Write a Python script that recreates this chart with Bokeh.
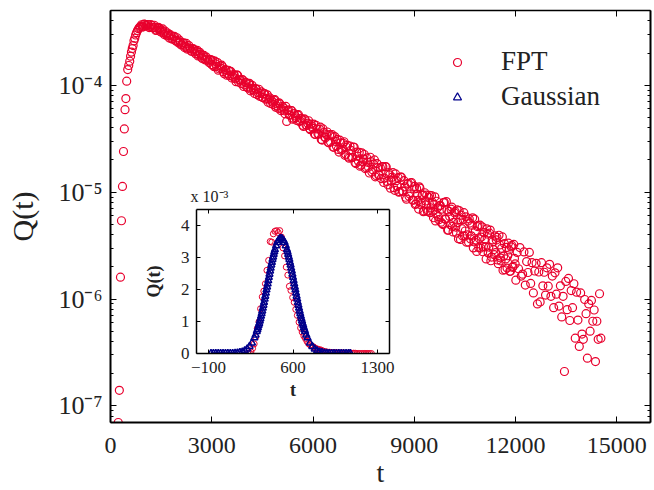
from bokeh.plotting import figure
from bokeh.models import (FixedTicker, LinearAxis, LogAxis, Legend, LegendItem,
                          ColumnDataSource, Range1d, CustomJSTickFormatter, GridBox)
from bokeh.embed import file_html
from bokeh.resources import INLINE

# ---------------- data ----------------
x_ticks = [0, 3000, 6000, 9000, 12000, 15000]
y_tick_values = [1e-7, 1e-6, 1e-5, 1e-4]
y_tick_labels = ["10\u207b\u2077", "10\u207b\u2076", "10\u207b\u2075", "10\u207b\u2074"]

fpt_t_rise = [230, 262, 295, 325, 355, 385, 410, 430, 455, 480, 510, 540, 570, 595, 620,
              645, 670, 695, 720, 745, 770, 800, 830, 860, 890]
fpt_q_rise = [7.0e-8, 1.4e-7, 1.6e-6, 5.4e-6, 1.13e-5, 2.4e-5, 3.9e-5, 5.9e-5, 7.5e-5, 1.09e-4,
              1.40e-4, 1.53e-4, 1.68e-4, 1.87e-4, 2.04e-4, 2.20e-4, 2.35e-4, 2.60e-4, 2.75e-4,
              2.95e-4, 3.10e-4, 3.25e-4, 3.38e-4, 3.48e-4, 3.55e-4]

fpt_t_peak = [920, 970, 1020, 1070, 1120, 1170, 1220, 1270, 1320, 1370, 1420, 1470, 1520, 1570,
              1620, 1670, 1720, 1770, 1820, 1870, 1920, 1970, 2020, 2070, 2120, 2170, 2220, 2270,
              2320, 2370, 2420, 2470, 2520, 2570, 2620, 2670, 2720, 2770, 2820, 2870, 2920, 2970]
fpt_q_peak = [3.68e-4, 3.52e-4, 3.72e-4, 3.60e-4, 3.68e-4, 3.50e-4, 3.62e-4, 3.45e-4, 3.49e-4,
              3.28e-4, 3.48e-4, 3.20e-4, 3.27e-4, 3.10e-4, 3.20e-4, 2.90e-4, 2.93e-4, 2.97e-4,
              2.70e-4, 2.83e-4, 2.64e-4, 2.78e-4, 2.48e-4, 2.53e-4, 2.39e-4, 2.49e-4, 2.32e-4,
              2.18e-4, 2.35e-4, 2.19e-4, 2.08e-4, 2.16e-4, 1.97e-4, 2.12e-4, 1.92e-4, 1.95e-4,
              1.78e-4, 1.90e-4, 1.76e-4, 1.76e-4, 1.63e-4, 1.74e-4]

fpt_t_peak_b = [945, 995, 1045, 1095, 1145, 1195, 1245, 1295, 1345, 1395, 1445, 1495, 1545, 1595,
                1645, 1695, 1745, 1795, 1845, 1895, 1945, 1995, 2045, 2095, 2145, 2195, 2245, 2295,
                2345, 2395, 2445, 2495, 2545, 2595, 2645, 2695, 2745, 2795, 2845, 2895, 2945, 2995]
fpt_q_peak_b = [3.51e-4, 3.73e-4, 3.60e-4, 3.70e-4, 3.46e-4, 3.70e-4, 3.45e-4, 3.64e-4, 3.25e-4,
                3.39e-4, 3.40e-4, 3.14e-4, 3.36e-4, 2.98e-4, 3.03e-4, 3.08e-4, 2.76e-4, 2.90e-4,
                2.72e-4, 2.86e-4, 2.58e-4, 2.57e-4, 2.64e-4, 2.38e-4, 2.48e-4, 2.25e-4, 2.46e-4,
                2.22e-4, 2.23e-4, 2.08e-4, 2.20e-4, 2.05e-4, 2.08e-4, 1.88e-4, 2.03e-4, 1.83e-4,
                1.89e-4, 1.73e-4, 1.83e-4, 1.69e-4, 1.73e-4, 1.56e-4]

fpt_t_mid = [3020, 3070, 3120, 3170, 3220, 3270, 3320, 3370, 3420, 3470,
             3520, 3570, 3620, 3670, 3720, 3770, 3820, 3870, 3920, 3970,
             4020, 4070, 4120, 4170, 4220, 4270, 4320, 4370, 4420, 4470,
             4520, 4570, 4620, 4670, 4720, 4770, 4820, 4870, 4920, 4970,
             5020, 5070, 5120, 5170, 5220, 5270, 5320, 5370, 5420, 5470,
             5520, 5570, 5620, 5670, 5720, 5770, 5820, 5870, 5920, 5970,
             6020, 6070, 6120, 6170, 6220, 6270, 6320, 6370, 6420, 6470,
             6520, 6570, 6620, 6670, 6720, 6770, 6820, 6870, 6920, 6970,
             7020, 7070, 7120, 7170, 7220, 7270, 7320, 7370, 7420, 7470,
             7520, 7570, 7620, 7670, 7720, 7770, 7820, 7870, 7920, 7970,
             8020, 8070, 8120, 8170, 8220, 8270, 8320, 8370, 8420, 8470,
             8520, 8570, 8620, 8670, 8720, 8770, 8820, 8870, 8920, 8970]
fpt_q_mid = [1.71e-4, 1.49e-4, 1.58e-4, 1.63e-4, 1.42e-4, 1.44e-4, 1.49e-4, 1.28e-4, 1.39e-4, 1.28e-4,
             1.23e-4, 1.34e-4, 1.21e-4, 1.24e-4, 1.08e-4, 1.23e-4, 1.12e-4, 1.04e-4, 1.12e-4, 1.01e-4,
             1.05e-4, 9.4e-5, 1.04e-4, 9.15e-5, 9.4e-5, 8.37e-5, 9.23e-5, 8.5e-5, 7.88e-5, 8.68e-5,
             7.67e-5, 8.35e-5, 7.54e-5, 6.93e-5, 7.63e-5, 7.24e-5, 6.59e-5, 7.32e-5, 6.42e-5, 6.08e-5,
             6.68e-5, 5.98e-5, 6.14e-5, 5.41e-5, 4.59e-5, 5.89e-5, 5.26e-5, 5.78e-5, 4.92e-5, 5.16e-5,
             4.68e-5, 5.30e-5, 4.66e-5, 4.83e-5, 4.12e-5, 4.74e-5, 4.20e-5, 4.65e-5, 3.84e-5, 4.11e-5,
             4.32e-5, 3.46e-5, 3.90e-5, 3.48e-5, 4.05e-5, 3.07e-5, 3.61e-5, 3.23e-5, 3.65e-5, 2.89e-5,
             2.95e-5, 3.45e-5, 2.63e-5, 2.98e-5, 3.11e-5, 2.37e-5, 2.89e-5, 2.52e-5, 2.96e-5, 2.26e-5,
             2.74e-5, 2.08e-5, 2.46e-5, 2.12e-5, 2.63e-5, 1.85e-5, 2.17e-5, 2.35e-5, 1.79e-5, 1.92e-5,
             2.25e-5, 1.70e-5, 1.90e-5, 1.51e-5, 1.93e-5, 1.62e-5, 2.00e-5, 1.43e-5, 1.69e-5, 1.44e-5,
             1.34e-5, 1.73e-5, 1.35e-5, 1.72e-5, 1.17e-5, 1.45e-5, 1.27e-5, 1.52e-5, 1.04e-5, 1.28e-5,
             1.37e-5, 1.01e-5, 1.38e-5, 1.02e-5, 1.12e-5, 8.6e-6, 1.21e-5, 9.6e-6, 1.23e-5, 8.4e-6]

fpt_t_mid_b = [3045, 3095, 3145, 3195, 3245, 3295, 3345, 3395, 3445, 3495,
               3545, 3595, 3645, 3695, 3745, 3795, 3845, 3895, 3945, 3995,
               4045, 4095, 4145, 4195, 4245, 4295, 4345, 4395, 4445, 4495,
               4545, 4595, 4645, 4695, 4745, 4795, 4845, 4895, 4945, 4995,
               5045, 5095, 5145, 5195, 5245, 5295, 5345, 5395, 5445, 5495,
               5545, 5595, 5645, 5695, 5745, 5795, 5845, 5895, 5945, 5995,
               6045, 6095, 6145, 6195, 6245, 6295, 6345, 6395, 6445, 6495,
               6545, 6595, 6645, 6695, 6745, 6795, 6845, 6895, 6945, 6995,
               7045, 7095, 7145, 7195, 7245, 7295, 7345, 7395, 7445, 7495,
               7545, 7595, 7645, 7695, 7745, 7795, 7845, 7895, 7945, 7995,
               8045, 8095, 8145, 8195, 8245, 8295, 8345, 8395, 8445, 8495,
               8545, 8595, 8645, 8695, 8745, 8795, 8845, 8895, 8945, 8995]
fpt_q_mid_b = [1.53e-4, 1.68e-4, 1.50e-4, 1.38e-4, 1.52e-4, 1.54e-4, 1.34e-4, 1.39e-4, 1.24e-4, 1.38e-4,
               1.35e-4, 1.17e-4, 1.26e-4, 1.15e-4, 1.25e-4, 1.07e-4, 1.12e-4, 1.13e-4, 9.75e-5, 1.07e-4,
               9.6e-5, 1.03e-4, 8.87e-5, 9.97e-5, 9.02e-5, 9.26e-5, 8.17e-5, 9.17e-5, 8.37e-5, 7.70e-5,
               8.30e-5, 7.40e-5, 8.14e-5, 7.43e-5, 6.76e-5, 6.95e-5, 7.27e-5, 6.23e-5, 6.75e-5, 6.85e-5,
               5.79e-5, 6.33e-5, 5.77e-5, 6.33e-5, 5.79e-5, 5.27e-5, 5.80e-5, 4.81e-5, 5.43e-5, 4.95e-5,
               5.26e-5, 4.57e-5, 4.89e-5, 4.22e-5, 4.84e-5, 4.25e-5, 4.41e-5, 3.93e-5, 4.32e-5, 3.95e-5,
               3.49e-5, 4.21e-5, 3.52e-5, 3.87e-5, 3.11e-5, 3.90e-5, 3.27e-5, 3.45e-5, 2.93e-5, 3.45e-5,
               3.35e-5, 2.64e-5, 3.31e-5, 2.69e-5, 2.51e-5, 3.06e-5, 2.46e-5, 2.86e-5, 2.21e-5, 2.63e-5,
               2.13e-5, 2.70e-5, 2.10e-5, 2.64e-5, 1.89e-5, 2.37e-5, 1.95e-5, 1.75e-5, 2.33e-5, 2.04e-5,
               1.66e-5, 2.09e-5, 1.71e-5, 2.12e-5, 1.54e-5, 1.83e-5, 1.39e-5, 1.85e-5, 1.45e-5, 1.69e-5,
               1.73e-5, 1.23e-5, 1.73e-5, 1.26e-5, 1.52e-5, 1.09e-5, 1.38e-5, 1.10e-5, 1.48e-5, 1.13e-5,
               1.00e-5, 1.38e-5, 1.02e-5, 1.28e-5, 8.96e-6, 1.19e-5, 9.17e-6, 1.22e-5, 8.43e-6, 1.07e-5]

fpt_t_tail = [9010, 9050, 9090, 9130, 9170, 9210, 9250, 9290, 9330, 9370,
              9410, 9450, 9490, 9530, 9570, 9610, 9650, 9690, 9730, 9770,
              9810, 9850, 9890, 9930, 9970, 10010, 10050, 10090, 10130, 10170,
              10210, 10250, 10290, 10330, 10370, 10410, 10450, 10490, 10530, 10570,
              10610, 10650, 10690, 10730, 10770, 10810, 10850, 10890, 10930, 10970,
              11010, 11050, 11090, 11130, 11170, 11210, 11250, 11290, 11330, 11370,
              11410, 11450, 11490, 11530, 11570, 11610, 11650, 11690, 11730, 11770,
              11810, 11850, 11890, 11930, 11970, 12010, 12050, 12090, 12130, 12170,
              12210, 12250, 12290, 12330, 12370, 12410, 12450, 12490, 12530, 12570,
              12610, 12650, 12690, 12730, 12770, 12810, 12850, 12890, 12930, 12970,
              13010, 13050, 13090, 13130, 13170, 13210, 13250, 13290, 13330, 13370,
              13410, 13450, 13490, 13530, 13570, 13610, 13650, 13690, 13730, 13770,
              13810, 13850, 13890, 13930, 13970, 14010, 14050, 14090, 14130, 14170,
              14210, 14250, 14290, 14330, 14370, 14410, 14450, 14490, 14530]
fpt_q_tail = [1.13e-5, 7.78e-6, 9.53e-6, 6.94e-6, 1.09e-5, 7.88e-6, 9.41e-6, 6.67e-6, 8.24e-6, 9.36e-6,
              6.69e-6, 9.31e-6, 7.12e-6, 8.07e-6, 5.76e-6, 9.04e-6, 6.23e-6, 7.13e-6, 5.53e-6, 7.52e-6,
              6.92e-6, 4.97e-6, 8.02e-6, 5.57e-6, 6.82e-6, 4.42e-6, 5.93e-6, 6.93e-6, 4.78e-6, 5.22e-6,
              6.60e-6, 4.14e-6, 5.18e-6, 6.72e-6, 3.61e-6, 4.55e-6, 5.55e-6, 3.87e-6, 5.88e-6, 3.99e-6,
              3.40e-6, 5.14e-6, 3.90e-6, 5.75e-6, 3.43e-6, 4.35e-6, 2.79e-6, 4.88e-6, 3.66e-6, 3.00e-6,
              4.74e-6, 3.10e-6, 3.62e-6, 2.37e-6, 4.05e-6, 3.06e-6, 4.42e-6, 2.47e-6, 3.44e-6, 2.60e-6,
              2.72e-6, 3.77e-6, 2.14e-6, 3.21e-6, 2.27e-6, 3.81e-6, 2.52e-6, 1.88e-6, 3.04e-6, 2.54e-6,
              2.88e-6, 1.82e-6, 3.17e-6, 2.02e-6, 2.40e-6, 1.50e-6, 2.73e-6, 1.92e-6, 3.03e-6, 1.64e-6,
              1.71e-6, 2.76e-6, 1.35e-6, 2.24e-6, 1.77e-6, 2.73e-6, 1.40e-6, 2.19e-6, 1.14e-6, 1.83e-6,
              2.16e-6, 9.0e-7, 1.79e-6, 9.4e-7, 2.19e-6, 1.33e-6, 1.78e-6, 1.09e-6, 1.96e-6, 1.32e-6,
              2.11e-6, 1.06e-6, 1.64e-6, 8.3e-7, 1.76e-6, 1.11e-6, 1.96e-6, 8.6e-7, 1.33e-6, 6.8e-7,
              1.06e-6, 2.1e-7, 1.46e-6, 7.95e-7, 1.56e-6, 6.3e-7, 1.20e-6, 8.3e-7, 1.39e-6, 4.3e-7,
              1.16e-6, 6.36e-7, 3.6e-7, 1.14e-6, 4.7e-7, 4.2e-7, 9.9e-7, 7.3e-7, 2.8e-7, 9.0e-7,
              5.0e-7, 9.7e-7, 6.2e-7, 7.9e-7, 2.6e-7, 6.2e-7, 4.2e-7, 1.12e-6, 4.3e-7]

fpt_t_tail_b = [9030, 9070, 9110, 9150, 9190, 9230, 9270, 9310, 9350, 9390,
                9430, 9470, 9510, 9550, 9590, 9630, 9670, 9710, 9750, 9790,
                9830, 9870, 9910, 9950, 9990, 10030, 10070, 10110, 10150, 10190,
                10230, 10270, 10310, 10350, 10390, 10430, 10470, 10510, 10550, 10590,
                10630, 10670, 10710, 10750, 10790, 10830, 10870, 10910, 10950, 10990,
                11030, 11070, 11110, 11150, 11190, 11230, 11270, 11310, 11350, 11390,
                11430, 11470, 11510, 11550, 11590, 11630, 11670, 11710, 11750, 11790,
                11830, 11870, 11910, 11950, 11990]
fpt_q_tail_b = [7.67e-6, 1.08e-5, 8.36e-6, 1.12e-5, 7.60e-6, 9.32e-6, 6.57e-6, 9.87e-6, 7.60e-6, 6.59e-6,
                8.93e-6, 6.42e-6, 9.28e-6, 6.62e-6, 7.63e-6, 5.38e-6, 8.22e-6, 5.91e-6, 7.45e-6, 5.24e-6,
                5.08e-6, 7.97e-6, 5.62e-6, 8.15e-6, 4.40e-6, 6.61e-6, 4.96e-6, 7.24e-6, 4.24e-6, 6.40e-6,
                4.71e-6, 6.82e-6, 3.67e-6, 5.52e-6, 6.09e-6, 3.89e-6, 6.42e-6, 4.33e-6, 3.40e-6, 5.36e-6,
                5.62e-6, 3.65e-6, 4.90e-6, 3.01e-6, 5.59e-6, 3.56e-6, 4.76e-6, 3.02e-6, 4.91e-6, 3.80e-6,
                2.77e-6, 4.18e-6, 3.08e-6, 4.54e-6, 2.70e-6, 4.13e-6, 2.28e-6, 3.57e-6, 2.89e-6, 3.89e-6,
                3.57e-6, 2.32e-6, 3.95e-6, 2.43e-6, 2.98e-6, 1.86e-6, 3.30e-6, 2.37e-6, 1.95e-6, 3.33e-6,
                1.82e-6, 3.08e-6, 1.98e-6, 3.24e-6, 2.13e-6]

# inset (values in units of 1e-3)
inset_x_ticks = [-100, 600, 1300]
inset_y_ticks = [0, 1, 2, 3, 4]
ins_fpt_t = [225, 238, 251, 265, 278, 291, 304, 318, 331, 345, 358, 371, 384, 398, 411, 424, 437,
             450, 464, 477, 490, 504, 517, 530, 544, 557, 570, 583, 597, 610, 623, 636, 650, 663,
             676, 690, 703, 716, 729, 742, 756, 769, 782, 795, 808, 822, 835, 848, 862, 875,
             890, 905, 920, 935, 950, 965, 980, 995, 1010, 1025, 1040, 1055, 1070, 1085, 1100,
             1115, 1130, 1145, 1160, 1175, 1190, 1205, 1220, 1235, 1250]
ins_fpt_q = [0.00, 0.01, 0.05, 0.16, 0.30, 0.52, 0.78, 0.99, 1.40, 1.77, 1.95, 2.18, 2.60, 2.91,
             3.50, 3.48, 3.74, 3.82, 3.84, 3.78, 3.84, 3.64, 3.30, 3.05, 2.70, 2.45, 2.10, 1.97,
             1.75, 1.60, 1.38, 1.19, 0.98, 0.80, 0.67, 0.55, 0.47, 0.38, 0.31, 0.27, 0.23, 0.21,
             0.17, 0.15, 0.13, 0.12, 0.10, 0.08, 0.06, 0.05,
             0.04, 0.04, 0.03, 0.03, 0.03, 0.02, 0.02, 0.02, 0.02, 0.01, 0.01, 0.01, 0.01, 0.01,
             0.01, 0.01, 0.0, 0.0, 0.0, 0.0, 0.0, 0.0, 0.0, 0.0, 0.0]

ins_gau_t = [-80, -60, -40, -20, 0, 20, 40, 60, 80, 100, 120, 140, 160, 180, 200, 220, 240, 260,
             280, 290, 300, 305, 310, 315, 320, 325, 330, 335, 340, 345, 350, 355, 360, 365, 370,
             375, 380, 385, 390, 395, 400, 405, 410, 415, 420, 425, 430, 435, 440, 445, 450,
             460, 470, 480, 490, 500, 510, 520, 530, 540, 550,
             555, 560, 565, 570, 575, 580, 585, 590, 595, 600, 605, 610, 615, 620, 625, 630, 635,
             640, 645, 650, 655, 660, 665, 670, 675, 680, 685, 690, 695, 700,
             710, 720, 740, 760, 780, 800, 820, 840, 860, 880, 900, 920, 940, 960, 980, 1000,
             1020, 1040, 1060, 1075]
ins_gau_q = [0.0, 0.0, 0.0, 0.0, 0.0, 0.0, 0.0, 0.0, 0.0, 0.0, 0.01, 0.02, 0.03, 0.05, 0.09, 0.14,
             0.22, 0.33, 0.49, 0.58, 0.69, 0.75, 0.81, 0.88, 0.94, 1.02, 1.09, 1.17, 1.25, 1.33,
             1.42, 1.51, 1.60, 1.70, 1.79, 1.89, 1.99, 2.08, 2.18, 2.28, 2.38, 2.48, 2.58, 2.67,
             2.77, 2.85, 2.94, 3.02, 3.10, 3.18, 3.25,
             3.37, 3.47, 3.54, 3.59, 3.60, 3.59, 3.54, 3.47, 3.37, 3.25,
             3.18, 3.10, 3.02, 2.94, 2.85, 2.77, 2.67, 2.58, 2.48, 2.38, 2.28, 2.18, 2.08, 1.99,
             1.89, 1.79, 1.70, 1.60, 1.51, 1.42, 1.33, 1.25, 1.17, 1.09, 1.02, 0.94, 0.88, 0.81,
             0.75, 0.69,
             0.58, 0.49, 0.33, 0.22, 0.14, 0.09, 0.05, 0.03, 0.02, 0.01, 0.0, 0.0, 0.0, 0.0, 0.0,
             0.0, 0.0, 0.0, 0.0, 0.0]

# ---------------- style ----------------
RED = "#e8002d"
BLUE = "#00008b"
FONT = "Liberation Serif"
TXT = "#222222"

main_src = ColumnDataSource(data=dict(
    t=fpt_t_rise + fpt_t_peak + fpt_t_peak_b + fpt_t_mid + fpt_t_mid_b + fpt_t_tail + fpt_t_tail_b,
    q=fpt_q_rise + fpt_q_peak + fpt_q_peak_b + fpt_q_mid + fpt_q_mid_b + fpt_q_tail + fpt_q_tail_b))

p = figure(width=654, height=490, x_range=Range1d(0, 16000), y_range=Range1d(7e-8, 5e-4),
           y_axis_type="log", output_backend="svg", toolbar_location=None,
           min_border_left=110, min_border_right=4, min_border_top=10, min_border_bottom=66)
p.grid.visible = False
p.outline_line_color = None
p.background_fill_color = "white"

y_minor = [m * 10.0 ** e for e in range(-8, -3) for m in range(2, 10)]
y_ticker = FixedTicker(ticks=y_tick_values, minor_ticks=y_minor)
x_ticker = FixedTicker(ticks=x_ticks)
y_fmt = CustomJSTickFormatter(args=dict(vals=y_tick_values, labs=y_tick_labels), code="""
for (let i = 0; i < vals.length; i++) {
  if (Math.abs(Math.log10(tick) - Math.log10(vals[i])) < 1e-6) { return labs[i]; }
}
return "";
""")


def style_axis(ax, width, fs, show_labels=True):
    ax.axis_line_color = "black"
    ax.axis_line_width = width
    ax.major_tick_in = 6
    ax.major_tick_out = 0
    ax.minor_tick_in = 3
    ax.minor_tick_out = 0
    ax.major_tick_line_color = "black"
    ax.minor_tick_line_color = "black"
    ax.major_label_text_font = FONT
    ax.major_label_text_color = TXT
    ax.major_label_text_font_size = fs
    if not show_labels:
        ax.formatter = CustomJSTickFormatter(code="return '';")
        ax.major_label_standoff = 0


xa = p.xaxis[0]
xa.ticker = x_ticker
style_axis(xa, 2, "24px")
xa.major_label_standoff = 15
xa.axis_label = "t"
xa.axis_label_text_font = FONT
xa.axis_label_text_font_size = "28px"
xa.axis_label_text_font_style = "normal"
xa.axis_label_text_color = TXT
xa.axis_label_standoff = 1

ya = p.yaxis[0]
ya.ticker = y_ticker
ya.formatter = y_fmt
style_axis(ya, 2, "26px")
ya.major_label_standoff = 8
ya.axis_label = "Q(t)"
ya.axis_label_text_font = FONT
ya.axis_label_text_font_size = "30px"
ya.axis_label_text_font_style = "normal"
ya.axis_label_text_color = TXT
ya.axis_label_standoff = 16

top_ax = LinearAxis(ticker=x_ticker)
style_axis(top_ax, 1.5, "2px", show_labels=False)
p.add_layout(top_ax, "above")
right_ax = LogAxis(ticker=y_ticker)
style_axis(right_ax, 2, "2px", show_labels=False)
p.add_layout(right_ax, "right")

r_fpt = p.scatter(x="t", y="q", source=main_src, marker="circle", size=8,
                  fill_color=None, line_color=RED, line_width=1.2)
# legend key for the Gaussian series (its points are drawn in the inset)
r_gau_key = p.scatter(x=ins_gau_t, y=ins_gau_q, marker="triangle", size=6, fill_color=None,
                      line_color=BLUE, line_width=1.2)
r_gau_key.visible = False

legend = Legend(items=[LegendItem(label="FPT", renderers=[r_fpt]),
                       LegendItem(label="Gaussian", renderers=[r_gau_key])],
                location=(337, 310))
legend.border_line_color = None
legend.background_fill_alpha = 0
legend.label_text_font = FONT
legend.label_text_font_size = "27px"
legend.label_text_color = TXT
legend.glyph_width = 20
legend.glyph_height = 20
legend.label_standoff = 34
legend.spacing = 4
legend.padding = 0
legend.margin = 0
p.add_layout(legend)

# ---------------- inset ----------------
q = figure(width=255, height=235, x_range=Range1d(-200, 1400), y_range=Range1d(0, 4.5),
           output_backend="svg", toolbar_location=None,
           min_border_left=48, min_border_right=6, min_border_top=34, min_border_bottom=57)
q.grid.visible = False
q.outline_line_color = None
q.border_fill_alpha = 0
q.background_fill_color = "white"

ix_ticker = FixedTicker(ticks=inset_x_ticks)
iy_ticker = FixedTicker(ticks=inset_y_ticks)

qx = q.xaxis[0]
qx.ticker = ix_ticker
style_axis(qx, 1.5, "17px")
qx.major_tick_in = 4
qx.major_label_standoff = 8
qx.axis_label = "t"
qx.axis_label_text_font = FONT
qx.axis_label_text_font_size = "18px"
qx.axis_label_text_font_style = "bold"
qx.axis_label_text_color = TXT
qx.axis_label_standoff = 4

qy = q.yaxis[0]
qy.ticker = iy_ticker
style_axis(qy, 1.5, "17px")
qy.major_tick_in = 4
qy.major_label_standoff = 7
qy.axis_label = "Q(t)"
qy.axis_label_text_font = FONT
qy.axis_label_text_font_size = "18px"
qy.axis_label_text_font_style = "bold"
qy.axis_label_text_color = TXT
qy.axis_label_standoff = 14

q_top = LinearAxis(ticker=ix_ticker)
style_axis(q_top, 1.5, "2px", show_labels=False)
q_top.major_tick_in = 4
q.add_layout(q_top, "above")
q_right = LinearAxis(ticker=iy_ticker)
style_axis(q_right, 1.5, "2px", show_labels=False)
q_right.major_tick_in = 4
q.add_layout(q_right, "right")

q.title.text = "x 10\u207b\u00b3"
q.title.text_font = FONT
q.title.text_font_size = "16px"
q.title.text_font_style = "normal"
q.title.text_color = TXT
q.title.align = "left"
q.title.offset = -6

q.scatter(x=ins_fpt_t, y=ins_fpt_q, marker="circle", size=6, fill_color=None,
          line_color=RED, line_width=1)
q.scatter(x=ins_gau_t, y=ins_gau_q, marker="triangle", size=7, fill_color=None,
          line_color=BLUE, line_width=1.5)

# overlapping grid cells: the inset sits on top of the main plot
lay = GridBox(children=[(p, 0, 0, 3, 3), (q, 1, 1, 1, 1)],
              rows=["175px", "235px", "80px"], cols=["140px", "255px", "259px"])
open("out.html", "w").write(file_html(lay, INLINE))
